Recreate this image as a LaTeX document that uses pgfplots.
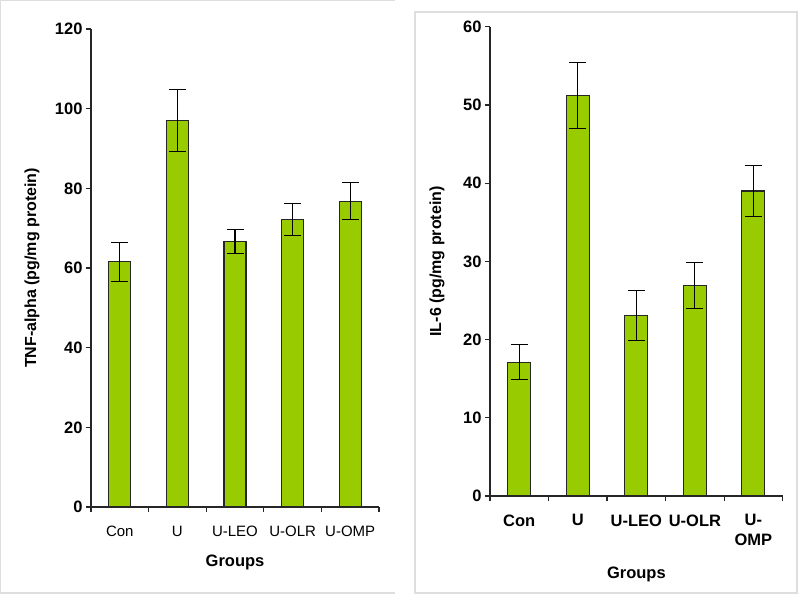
\documentclass[border=0pt]{standalone}
\usepackage{fontspec}
\setmainfont{Liberation Sans}
\usepackage{pgfplots}
\pgfplotsset{compat=1.18}
\definecolor{barg}{RGB}{153,204,0}
\definecolor{frameg}{RGB}{222,222,222}
\begin{document}
\begin{tikzpicture}
\path[use as bounding box,fill=white] (0bp,0bp) rectangle (798bp,595bp);
\draw[frameg,line width=1.2bp] (395bp,594.3bp) -- (0.8bp,594.3bp) -- (0.8bp,2bp) -- (395bp,2bp);
\draw[frameg,line width=1.2bp] (415bp,2bp) rectangle (797bp,583bp);
\pgfplotsset{
  mybars/.style={
    scale only axis, anchor=south west,
    /pgf/number format/assume math mode=true,
    axis lines*=left, axis line style={line width=1.2bp,black!85},
    enlargelimits=false, clip=false,
    xmin=-0.5, xmax=4.5, ymin=0,
    tick align=outside, major tick length=5bp,
    tick style={line width=1.2bp,black!85},
    xtick={-0.5,0.5,1.5,2.5,3.5,4.5}, xticklabels={},
    extra x ticks={0,1,2,3,4},
    yticklabel style={font=\bfseries\fontsize{16.5bp}{19bp}\selectfont},
    ylabel style={font=\bfseries\fontsize{16bp}{19bp}\selectfont, anchor=center},
    xlabel style={font=\bfseries\fontsize{16.5bp}{19bp}\selectfont, anchor=center},
    ybar,
  },
  myerr/.style={fill=barg, draw=black!85, line width=1.1bp,
    error bars/.cd, y dir=both, y explicit,
    error bar style={line width=1.1bp,black},
    error mark options={rotate=90, mark size=8.5bp, line width=1.1bp, black}},
}
\begin{axis}[mybars,
  at={(91bp,88bp)}, width=288bp, height=478bp,
  ymax=120, ytick={0,20,...,120},
  bar width=22bp,
  extra x tick labels={Con,U,U-LEO,U-OLR,U-OMP},
  extra x tick style={major tick length=0pt, tick style={draw=none},
    tick label style={font=\fontsize{15bp}{18bp}\selectfont, anchor=center, yshift=-24bp}},
  ylabel={TNF-alpha (pg/mg protein)},
  ylabel style={at={(axis description cs:-0.2049,0.5)}},
  xlabel={Groups},
  xlabel style={at={(axis description cs:0.5,-0.1155)}},
]
\addplot[myerr] coordinates {
 (0,61.6) +- (0,4.9)
 (1,97.0) +- (0,7.7)
 (2,66.6) +- (0,3.0)
 (3,72.2) +- (0,4.0)
 (4,76.8) +- (0,4.7)
};
\end{axis}
\begin{axis}[mybars,
  at={(490bp,99bp)}, width=292.7bp, height=469.3bp,
  ymax=60, ytick={0,10,...,60},
  bar width=23bp,
  extra x tick labels={Con,U,U-LEO,U-OLR,U-\\OMP},
  extra x tick style={major tick length=0pt, tick style={draw=none},
    tick label style={font=\bfseries\fontsize{16.5bp}{20bp}\selectfont, align=center, anchor=north, yshift=-15bp}},
  ylabel={IL-6 (pg/mg protein)},
  ylabel style={at={(axis description cs:-0.181,0.5)}},
  xlabel={Groups},
  xlabel style={at={(axis description cs:0.5,-0.1665)}},
]
\addplot[myerr] coordinates {
 (0,17.1) +- (0,2.25)
 (1,51.2) +- (0,4.2)
 (2,23.1) +- (0,3.2)
 (3,26.9) +- (0,2.9)
 (4,39.0) +- (0,3.25)
};
\end{axis}
\end{tikzpicture}
\end{document}
